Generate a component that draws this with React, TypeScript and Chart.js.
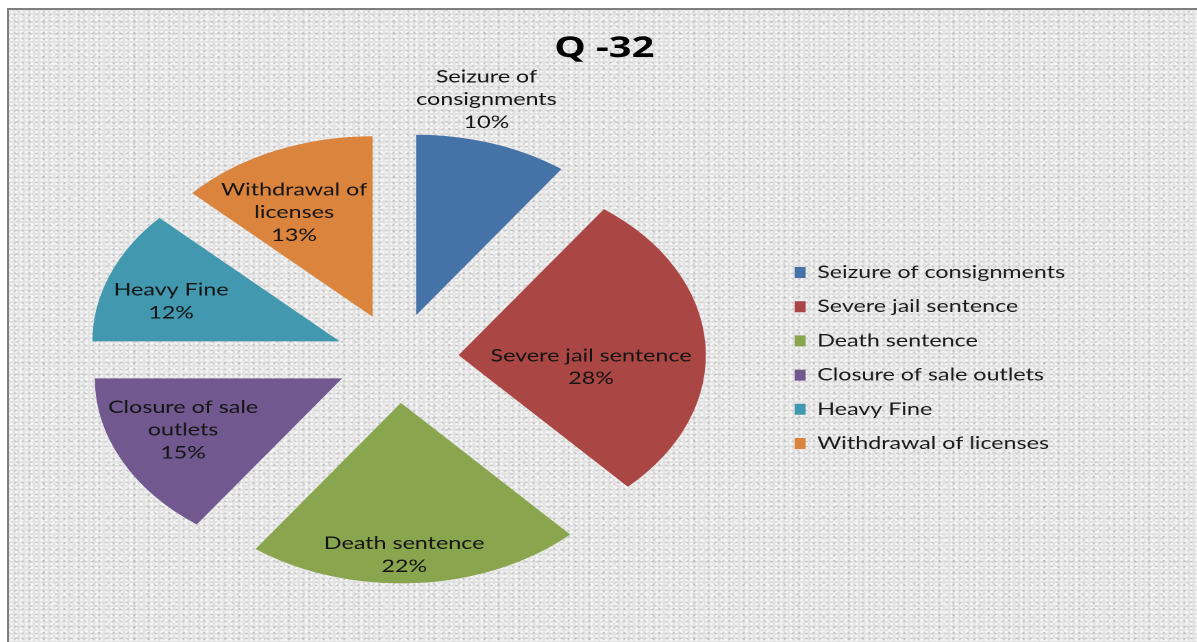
import React, { useEffect, useRef } from 'react';
import { Chart, PieController, ArcElement, Legend, Tooltip } from 'chart.js';

Chart.register(PieController, ArcElement, Legend, Tooltip);

// ---------- data ----------
const TITLE = 'Q -32';
const categories = [
  'Seizure of consignments',
  'Severe jail sentence',
  'Death sentence',
  'Closure of sale outlets',
  'Heavy Fine',
  'Withdrawal of licenses',
];
const values = [10, 28, 22, 15, 12, 13];
const labelLines = [
  ['Seizure of', 'consignments'],
  ['Severe jail sentence'],
  ['Death sentence'],
  ['Closure of sale', 'outlets'],
  ['Heavy Fine'],
  ['Withdrawal of', 'licenses'],
];
const colors = ['#4572A7', '#AA4643', '#89A54E', '#71588F', '#4198AF', '#DB843D'];

// ---------- style / layout ----------
const STRETCH = 1.37;
const CANVAS_W = 882;
const CANVAS_H = 642;
const EXPLODE = 45;
const RADIUS = 180.5;
const FONT = 'Lato, "Open Sans", sans-serif';
const TITLE_FONT = '"Open Sans", "Noto Sans", "Liberation Sans", sans-serif';
const FONT_SIZE = 17;
const LINE_H = 22.7;
const LABEL_PLACEMENT = [
  { r: 1.228, da: -4.6 },
  { r: 0.54, da: 10.8 },
  { r: 0.843, da: 2.7 },
  { r: 0.704, da: 3 },
  { r: 0.717, da: -3.6 },
  { r: 0.658, da: -5.4 },
];

const explodePlugin = {
  id: 'explodeSlices',
  beforeDatasetsDraw(chart: any) {
    const { chartArea } = chart;
    const cx = (chartArea.left + chartArea.right) / 2;
    const cy = (chartArea.top + chartArea.bottom) / 2;
    chart.getDatasetMeta(0).data.forEach((arc: any) => {
      const mid = (arc.startAngle + arc.endAngle) / 2;
      arc.x = cx + Math.cos(mid) * EXPLODE;
      arc.y = cy + Math.sin(mid) * EXPLODE;
    });
  },
};

const sliceLabelPlugin = {
  id: 'sliceLabels',
  afterDatasetsDraw(chart: any) {
    const ctx = chart.ctx;
    const total = values.reduce((a, b) => a + b, 0);
    ctx.save();
    ctx.font = `${FONT_SIZE}px ${FONT}`;
    ctx.fillStyle = '#141414';
    ctx.textAlign = 'center';
    ctx.textBaseline = 'middle';
    chart.getDatasetMeta(0).data.forEach((arc: any, i: number) => {
      const p = LABEL_PLACEMENT[i];
      const ang = (arc.startAngle + arc.endAngle) / 2 + (p.da * Math.PI) / 180;
      const r = arc.outerRadius * p.r;
      const x = arc.x + Math.cos(ang) * r;
      const y = arc.y + Math.sin(ang) * r;
      const pct = Math.round((values[i] / total) * 100) + '%';
      const lines = [...labelLines[i], pct];
      lines.forEach((t, k) => {
        ctx.fillText(t, x, y + (k - (lines.length - 1) / 2) * LINE_H);
      });
    });
    ctx.restore();
  },
};

const titlePlugin = {
  id: 'chartTitle',
  afterDraw(chart: any) {
    const ctx = chart.ctx;
    ctx.save();
    ctx.font = `bold 29px ${TITLE_FONT}`;
    ctx.fillStyle = '#000';
    ctx.textAlign = 'center';
    ctx.textBaseline = 'alphabetic';
    ctx.fillText(TITLE, chart.width / 2, 57);
    ctx.restore();
  },
};

export default function App() {
  const ref = useRef<HTMLCanvasElement | null>(null);

  useEffect(() => {
    if (!ref.current) return;
    const chart = new Chart(ref.current, {
      type: 'pie',
      data: {
        labels: categories,
        datasets: [
          {
            data: values,
            backgroundColor: colors,
            borderWidth: 0,
            radius: RADIUS,
          } as any,
        ],
      },
      options: {
        responsive: false,
        animation: false,
        devicePixelRatio: 2,
        layout: { padding: { left: 16.8, right: CANVAS_W - 777.8, top: 74, bottom: 0 } },
        plugins: {
          legend: {
            position: 'right',
            maxWidth: 215,
            labels: {
              boxWidth: 8,
              boxHeight: 11,
              padding: 17.2,
              color: '#1a1a1a',
              font: { family: FONT, size: FONT_SIZE },
            },
          },
          tooltip: { enabled: false },
        },
      } as any,
      plugins: [explodePlugin, sliceLabelPlugin, titlePlugin],
    });
    return () => chart.destroy();
  }, []);

  return (
    <div
      style={{
        position: 'fixed',
        left: 0,
        top: 0,
        width: 1197,
        height: 642,
        overflow: 'hidden',
        background: '#ffffff',
      }}
    >
      <div
        style={{
          position: 'absolute',
          left: 7,
          top: 8,
          right: -10,
          bottom: -10,
          borderLeft: '2px solid #7f7f7f',
          borderTop: '2px solid #7f7f7f',
          backgroundColor: '#e3e3e3',
          backgroundImage: [
            'radial-gradient(rgba(255,255,255,0.75) 0.8px, transparent 1.6px)',
            'radial-gradient(rgba(160,160,160,0.45) 0.8px, transparent 1.6px)',
            'radial-gradient(rgba(250,250,250,0.6) 1.2px, transparent 2.2px)',
            'radial-gradient(rgba(185,185,185,0.35) 1.2px, transparent 2.2px)',
          ].join(','),
          backgroundSize: '5px 4px, 7px 6px, 11px 9px, 13px 11px',
          backgroundPosition: '0 0, 3px 2px, 6px 4px, 2px 7px',
        }}
      />
      <canvas
        ref={ref}
        width={CANVAS_W}
        height={CANVAS_H}
        style={{
          position: 'absolute',
          left: 0,
          top: 0,
          transform: `scaleX(${STRETCH})`,
          transformOrigin: '0 0',
        }}
      />
    </div>
  );
}
